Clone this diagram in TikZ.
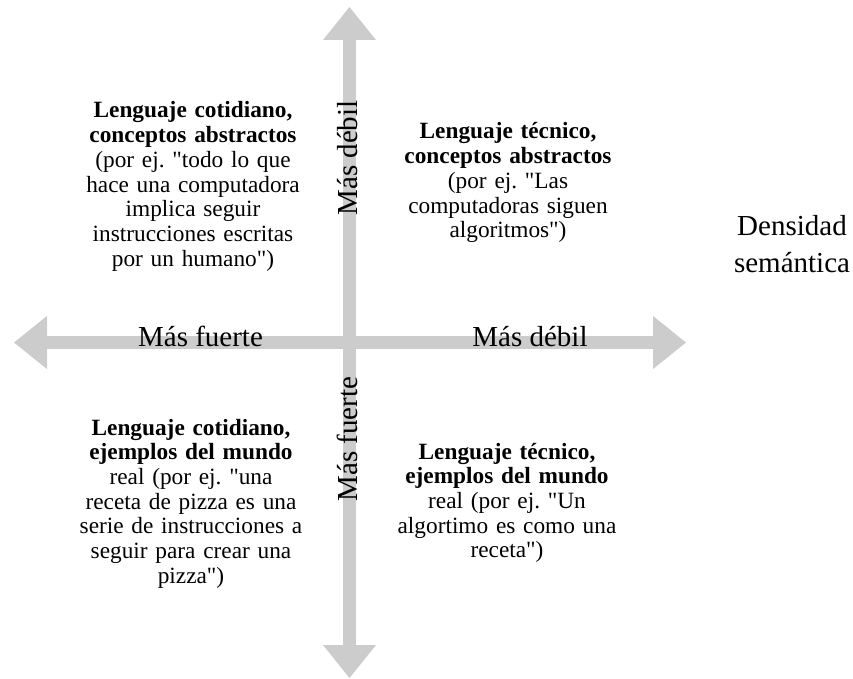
\documentclass[tikz,border=0pt]{standalone}
\usepackage{fontspec}
\setmainfont{Liberation Serif}
\usetikzlibrary{arrows.meta}
\definecolor{axisgrey}{HTML}{CCCCCC}
\newcommand{\dq}{\textquotedbl}
\frenchspacing
\begin{document}
\begin{tikzpicture}[x=1pt,y=-1pt,
  axis/.style={line width=13pt,draw=axisgrey,
    {Triangle[length=33pt,width=53pt,line width=0pt]}-{Triangle[length=33pt,width=53pt,line width=0pt]}},
  axislabel/.style={font=\fontsize{29}{37.5}\selectfont,inner sep=0pt,anchor=base},
  quadrant/.style={font=\fontsize{23.3}{24.7}\selectfont,align=center,text width=280pt,inner sep=0pt,anchor=base}]
\useasboundingbox (0,0) rectangle (853,679);
% axes
\coordinate (north) at (349.5,7);
\coordinate (south) at (349.5,678);
\coordinate (west) at (14,342.5);
\coordinate (east) at (686,342.5);
\draw [axis] (south) -- (north);
\draw [axis] (west) -- (east);
% axis labels
\node [axislabel] (hstrong) at (200.5,346) {Más fuerte};
\node [axislabel] (hweak) at (530,346) {Más débil};
\node [axislabel,rotate=90] (vweak) at (357,158) {Más débil};
\node [axislabel,rotate=90] (vstrong) at (357,439) {Más fuerte};
\node [axislabel,align=center,text width=200pt] (density) at (792,235) {Densidad\\semántica};
% quadrants
\node [quadrant] (topleft) at (193,118) {\textbf{Lenguaje cotidiano,}\\\textbf{conceptos abstractos}\\(por ej. \dq todo lo que\\hace una computadora\\implica seguir\\instrucciones escritas\\por un humano\dq)};
\node [quadrant] (topright) at (508,139) {\textbf{Lenguaje técnico,}\\\textbf{conceptos abstractos}\\(por ej. \dq Las\\computadoras siguen\\algoritmos\dq)};
\node [quadrant] (bottomleft) at (191,435) {\textbf{Lenguaje cotidiano,}\\\textbf{ejemplos del mundo}\\real (por ej. \dq una\\receta de pizza es una\\serie de instrucciones a\\seguir para crear una\\pizza\dq)};
\node [quadrant] (bottomright) at (507,459) {\textbf{Lenguaje técnico,}\\\textbf{ejemplos del mundo}\\real (por ej. \dq Un\\algortimo es como una\\receta\dq)};
\end{tikzpicture}
\end{document}
